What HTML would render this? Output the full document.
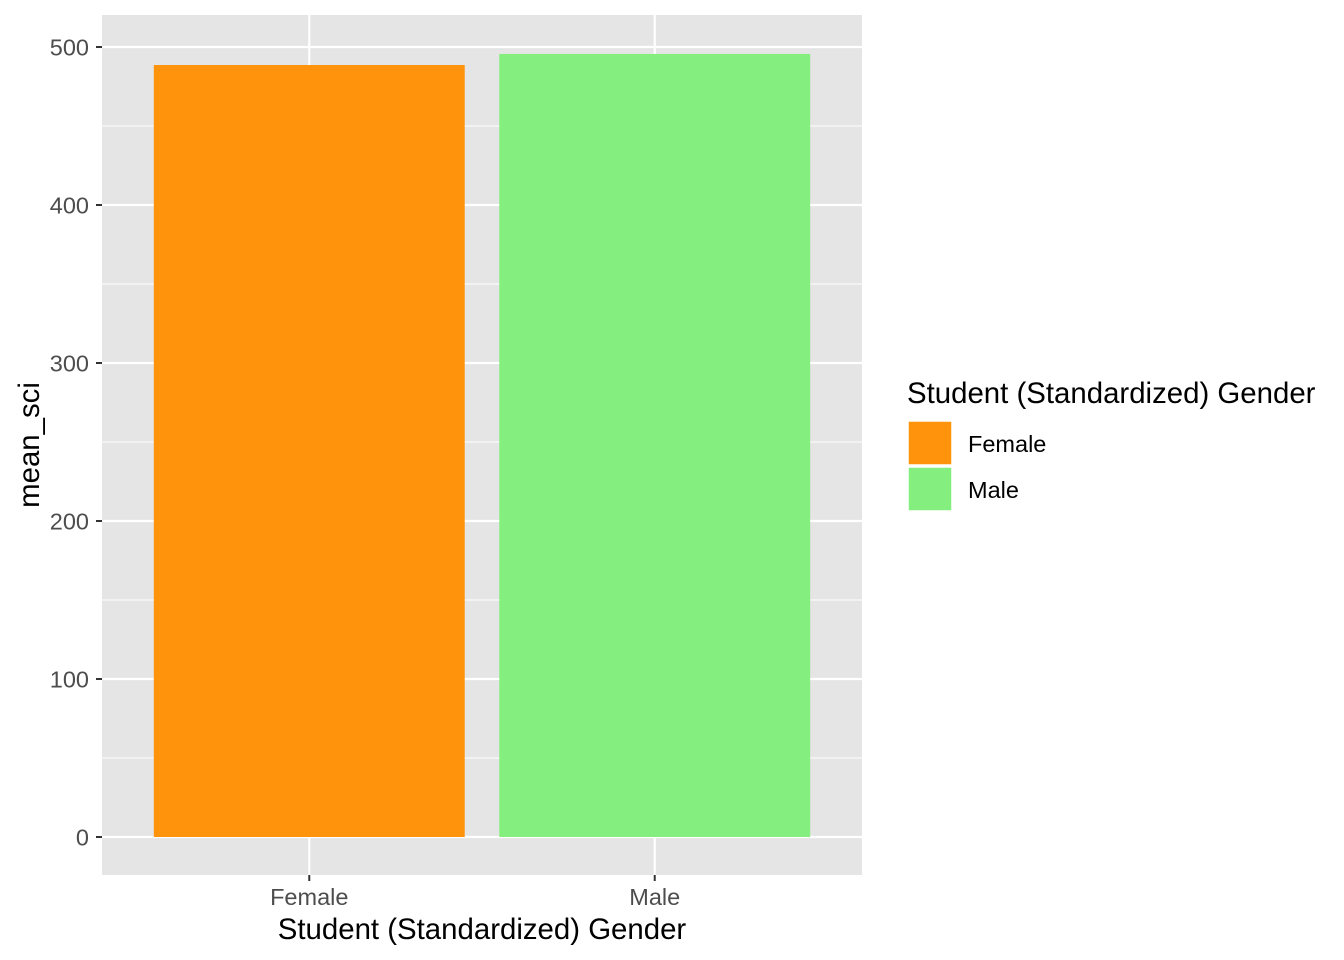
<!DOCTYPE html>
<html><head><meta charset="utf-8"><style>body{margin:0;background:#fff}svg{display:block;font-family:"Liberation Sans",Arial,sans-serif}</style></head>
<body>
<svg width="1344" height="960">
<g id="plot"></g>
</svg>
<script>
const categories = ["Female", "Male"];
const values = [488.6, 495.6];
const colors = ["#FF940C", "#84EF7E"];
const yTicks = [0, 100, 200, 300, 400, 500];
const NS = "http://www.w3.org/2000/svg";
const g = document.getElementById("plot");
const px0 = 102, px1 = 862, py0 = 15, py1 = 875;
const y = v => 837 - v * 1.58;
const band = (px1 - px0) / (categories.length - 1 + 1.2);
const xc = i => px0 + band * (i + 0.6);
function mk(tag, attrs, parent) { const e = document.createElementNS(NS, tag); for (const k in attrs) e.setAttribute(k, attrs[k]); (parent || g).appendChild(e); return e; }
let bg = mk("rect", {x: px0, y: py0, width: px1 - px0, height: py1 - py0, fill: "#E5E5E5"});


for (let i = 0; i < yTicks.length - 1; i++) {
  const m = (yTicks[i] + yTicks[i + 1]) / 2;
  mk("line", {x1: px0, x2: px1, y1: y(m), y2: y(m), stroke: "#fff", "stroke-width": 1});
}
yTicks.forEach(t => {
  let l = mk("line", {x1: px0, x2: px1, y1: y(t), y2: y(t), stroke: "#fff", "stroke-width": 2.2});
  
  
  mk("line", {x1: px0 - 6, x2: px0, y1: y(t), y2: y(t), stroke: "#333", "stroke-width": 2});
  let tx = mk("text", {x: 89, y: y(t) + 8.5, "text-anchor": "end", "font-size": 23.5, fill: "#4D4D4D"});
  tx.textContent = t;
  
  
});
categories.forEach((c, i) => {
  mk("line", {x1: xc(i), x2: xc(i), y1: py0, y2: py1, stroke: "#fff", "stroke-width": 2.2});
});
categories.forEach((c, i) => {
  const w = band * 0.9;
  let r = mk("rect", {x: xc(i) - w / 2, y: y(values[i]), width: w, height: y(0) - y(values[i]), fill: colors[i]});
  
  
  mk("line", {x1: xc(i), x2: xc(i), y1: py1, y2: py1 + 6, stroke: "#333", "stroke-width": 2});
  let tx = mk("text", {x: xc(i), y: 905, "text-anchor": "middle", "font-size": 23.5, fill: "#4D4D4D"});
  tx.textContent = c;
  
  
  let k = mk("rect", {x: 908, y: 421 + i * 46, width: 44, height: 44, fill: colors[i], stroke: "#fff", "stroke-width": 1.5});
  
  
  let lt = mk("text", {x: 968, y: 452 + i * 46, "font-size": 23.5, fill: "#000"});
  lt.textContent = c;
  
  
});
let xt = mk("text", {x: 482, y: 939, "text-anchor": "middle", "font-size": 29.4});
xt.textContent = "Student (Standardized) Gender";


let yt = mk("text", {x: 39, y: 445, "text-anchor": "middle", "font-size": 29.4, transform: "rotate(-90 39 445)"});
yt.textContent = "mean_sci";


let lg = mk("text", {x: 907, y: 403, "font-size": 29.4});
lg.textContent = "Student (Standardized) Gender";


</script>
</body></html>
